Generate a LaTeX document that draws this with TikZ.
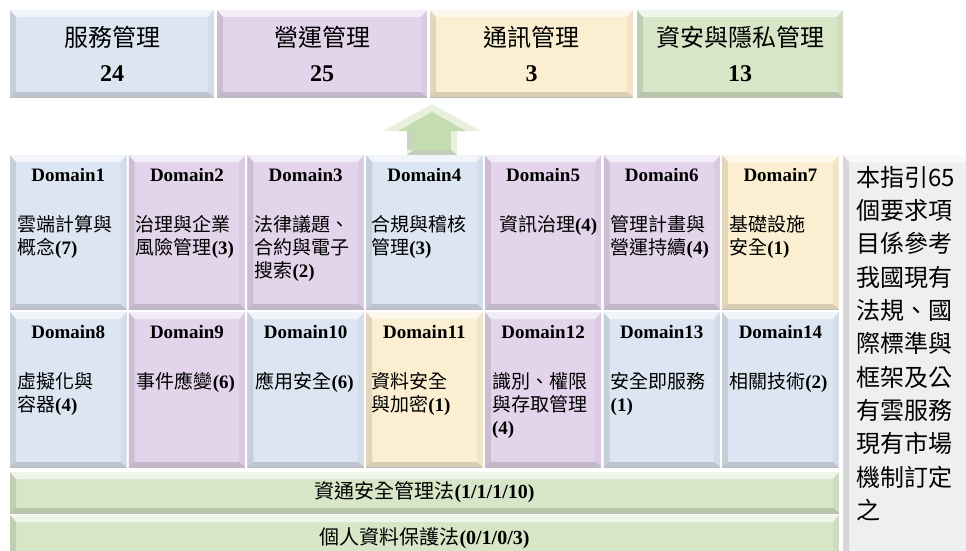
\documentclass[tikz,border=0pt]{standalone}
\usepackage{fontspec}
\setmainfont{Liberation Serif}
\newfontfamily\cjk{Noto Sans CJK TC}
\usetikzlibrary{calc}
\definecolor{cblue}{HTML}{DCE6F2}
\definecolor{cpurp}{HTML}{E3D4EC}
\definecolor{cyell}{HTML}{FCEED0}
\definecolor{cgreen}{HTML}{D8E6C8}
\definecolor{cgrey}{HTML}{EFEFEF}
\definecolor{arrowg}{HTML}{C4DCAE}
\definecolor{arrowl}{HTML}{E8F1DF}
\newcommand\cj[1]{{\cjk\mdseries #1}}
\tikzset{
  bev/.style={path picture={
    \coordinate (qa) at (path picture bounding box.north west);
    \coordinate (qb) at (path picture bounding box.north east);
    \coordinate (qc) at (path picture bounding box.south east);
    \coordinate (qd) at (path picture bounding box.south west);
    \fill[white,opacity=.6] (qa) -- (qb) -- ([shift={(-6pt,-7pt)}]qb) -- ([shift={(6pt,-7pt)}]qa) -- cycle;
    \fill[black,opacity=.10] (qa) -- ([shift={(6pt,-7pt)}]qa) -- ([shift={(6pt,5pt)}]qd) -- (qd) -- cycle;
    \fill[black,opacity=.04] (qb) -- ([shift={(-6pt,-7pt)}]qb) -- ([shift={(-6pt,5pt)}]qc) -- (qc) -- cycle;
    \fill[black,opacity=.14] (qd) -- ([shift={(6pt,5pt)}]qd) -- ([shift={(-6pt,5pt)}]qc) -- (qc) -- cycle;
    \draw[black,opacity=.25,line width=1pt] (qd) -- (qc);
  }},
  box/.style={inner sep=0pt, outer sep=0pt, anchor=north west, draw=none, bev},
  topbox/.style={box, minimum height=87pt, align=center, font=\fontsize{24}{35}\selectfont\bfseries},
  dbox/.style={box, minimum width=116.5pt},
  hdr/.style={inner sep=0pt, anchor=center, font=\fontsize{19}{23}\selectfont\bfseries},
  bdy/.style={inner sep=0pt, anchor=north west, align=left, font=\fontsize{19}{23}\selectfont\bfseries},
  bar/.style={box, minimum width=829pt, fill=cgreen, font=\fontsize{20}{24}\selectfont\bfseries},
}
\begin{document}
\begin{tikzpicture}[x=1pt,y=-1pt]
\useasboundingbox (0,0) rectangle (966,551);
\clip (0,0) rectangle (966,551);
\fill[white] (0,0) rectangle (966,551);

% top category boxes
\node[topbox, fill=cblue,  minimum width=204pt] (t1) at (10,10)  {\cj{服務管理}\\24};
\node[topbox, fill=cpurp,  minimum width=210pt] (t2) at (217,10) {\cj{營運管理}\\25};
\node[topbox, fill=cyell,  minimum width=203pt] (t3) at (430,10) {\cj{通訊管理}\\3};
\node[topbox, fill=cgreen, minimum width=206pt] (t4) at (637,10) {\cj{資安與隱私管理}\\13};

% arrow
\fill[arrowl] (432,104) -- (481,131) -- (457,131) -- (457,155) -- (407,155) -- (407,131) -- (383,131) -- cycle;
\fill[arrowg] (432,112) -- (466,131) -- (457,131) -- (407,131) -- (398,131) -- cycle;
\fill[arrowg] (413,131) rectangle (451,150);
\fill[black,opacity=.12] (407,150) -- (413,150) -- (413,131) -- (407,131) -- cycle;
\fill[black,opacity=.15] (407,155) -- (457,155) -- (451,150) -- (413,150) -- cycle;

% domain boxes row 1
\node[dbox, fill=cblue,  minimum height=154pt] (d1) at (10,155) {};
\node[dbox, fill=cpurp,  minimum height=154pt] (d2) at (128.7,155) {};
\node[dbox, fill=cpurp,  minimum height=154pt] (d3) at (247.4,155) {};
\node[dbox, fill=cblue,  minimum height=154pt] (d4) at (366.1,155) {};
\node[dbox, fill=cpurp,  minimum height=154pt] (d5) at (484.8,155) {};
\node[dbox, fill=cpurp,  minimum height=154pt] (d6) at (603.5,155) {};
\node[dbox, fill=cyell,  minimum height=154pt] (d7) at (722.2,155) {};
% row 2
\node[dbox, fill=cblue,  minimum height=155pt] (d8)  at (10,312) {};
\node[dbox, fill=cpurp,  minimum height=155pt] (d9)  at (128.7,312) {};
\node[dbox, fill=cblue,  minimum height=155pt] (d10) at (247.4,312) {};
\node[dbox, fill=cyell,  minimum height=155pt] (d11) at (366.1,312) {};
\node[dbox, fill=cpurp,  minimum height=155pt] (d12) at (484.8,312) {};
\node[dbox, fill=cblue,  minimum height=155pt] (d13) at (603.5,312) {};
\node[dbox, fill=cblue,  minimum height=155pt] (d14) at (722.2,312) {};

% headers
\foreach \i in {1,...,14} {
  \node[hdr] (h\i) at ($(d\i.north)+(0,20)$) {Domain\i};
}

% bodies
\node[bdy] (c1) at ($(d1.north west)+(7,60)$) {\cj{雲端計算與}\\\cj{概念}(7)};
\node[bdy] (c2) at ($(d2.north west)+(7,60)$) {\cj{治理與企業}\\\cj{風險管理}(3)};
\node[bdy] (c3) at ($(d3.north west)+(7,60)$) {\cj{法律議題、}\\\cj{合約與電子}\\\cj{搜索}(2)};
\node[bdy] (c4) at ($(d4.north west)+(5,60)$) {\cj{合規與稽核}\\\cj{管理}(3)};
\node[bdy] (c5) at ($(d5.north west)+(14,60)$) {\cj{資訊治理}(4)};
\node[bdy] (c6) at ($(d6.north west)+(7,60)$) {\cj{管理計畫與}\\\cj{營運持續}(4)};
\node[bdy] (c7) at ($(d7.north west)+(7,60)$) {\cj{基礎設施}\\\cj{安全}(1)};
\node[bdy] (c8) at ($(d8.north west)+(7,60)$) {\cj{虛擬化與}\\\cj{容器}(4)};
\node[bdy] (c9) at ($(d9.north west)+(8,60)$) {\cj{事件應變}(6)};
\node[bdy] (c10) at ($(d10.north west)+(8,60)$) {\cj{應用安全}(6)};
\node[bdy] (c11) at ($(d11.north west)+(5,60)$) {\cj{資料安全}\\\cj{與加密}(1)};
\node[bdy] (c12) at ($(d12.north west)+(7,60)$) {\cj{識別、權限}\\\cj{與存取管理}\\(4)};
\node[bdy] (c13) at ($(d13.north west)+(7,60)$) {\cj{安全即服務}\\(1)};
\node[bdy] (c14) at ($(d14.north west)+(7,60)$) {\cj{相關技術}(2)};

% bars
\node[bar, minimum height=41pt] (b1) at (10,472) {\cj{資通安全管理法}(1/1/1/10)};
\node[bar, minimum height=46pt] (b2) at (10,515) {\cj{個人資料保護法}(0/1/0/3)};

% side note
\node[box, fill=cgrey, minimum width=130pt, minimum height=410pt] (side) at (843,155) {};
\node[inner sep=0pt, anchor=north west, align=left, font=\cjk\fontsize{24}{33.3}\selectfont] (note) at (856,166)
 {本指引65\\個要求項\\目係參考\\我國現有\\法規、國\\際標準與\\框架及公\\有雲服務\\現有市場\\機制訂定\\之};
\end{tikzpicture}
\end{document}
